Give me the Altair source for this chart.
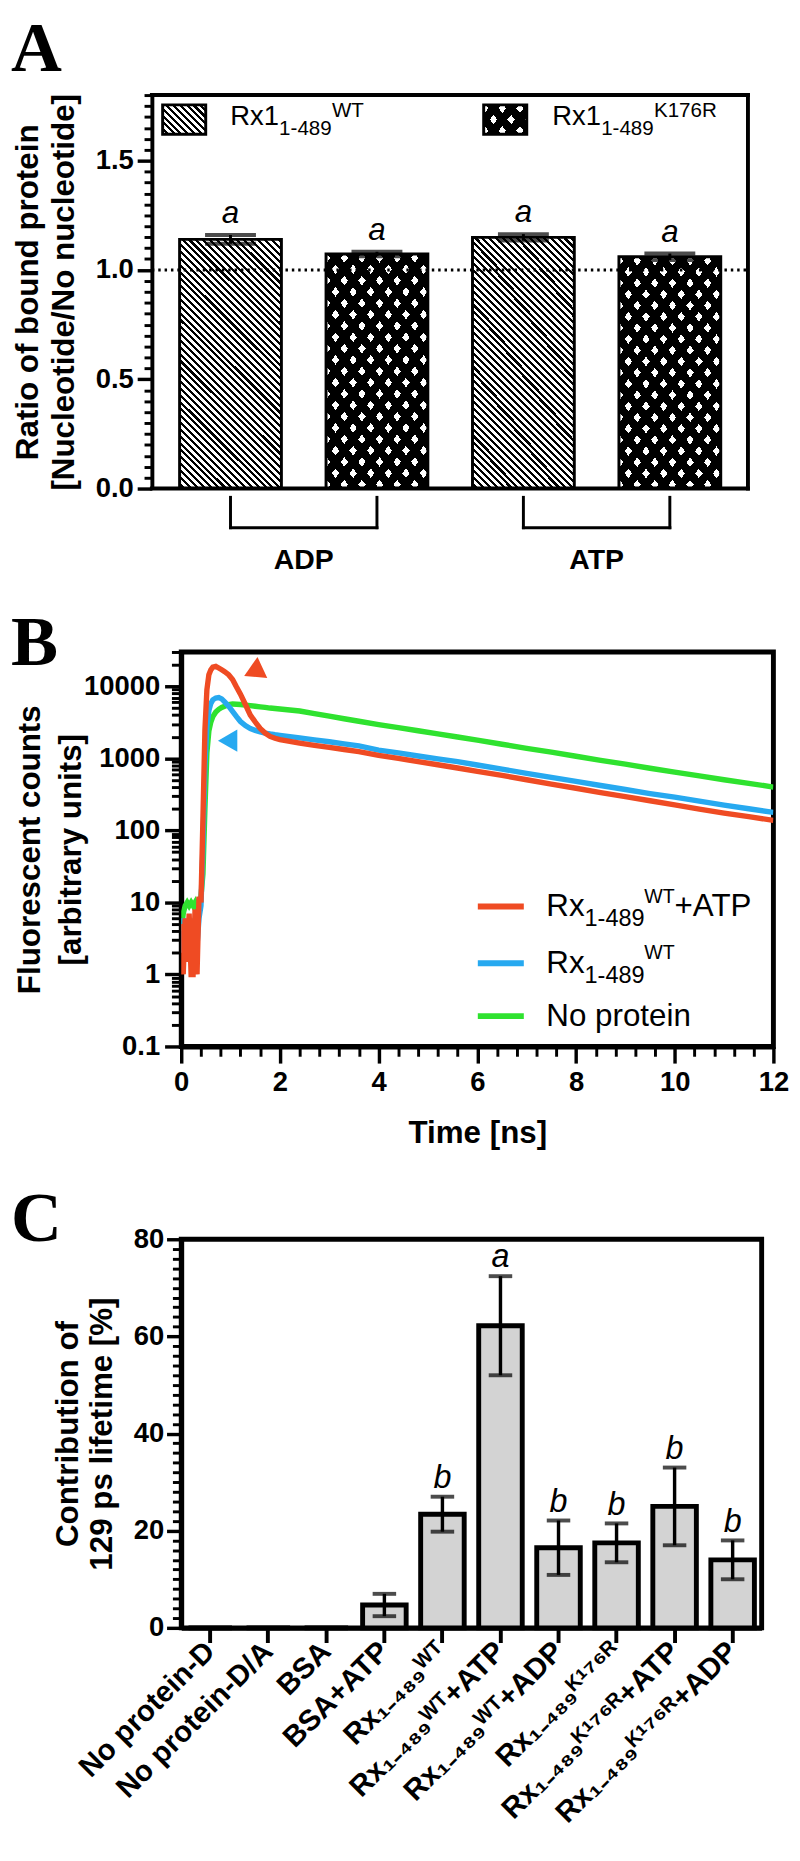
import altair as alt
import pandas as pd

FONT = "Liberation Sans"
SERIF = "Liberation Serif"
RED = "#EF4B23"
BLUE = "#27A9F0"
GREEN = "#2FE22F"

# ---------------- Panel A values ----------------
A_POS = [1, 2, 3, 4]
A_VARIANT = ["WT", "K176R", "WT", "K176R"]
A_MEAN = [1.14, 1.073, 1.149, 1.06]
A_ERR = [0.02, 0.01, 0.015, 0.015]
A_LETTER = ["a", "a", "a", "a"]
A_GROUP = ["ADP", "ATP"]
A_GROUP_FIRST = [1, 3]
A_GROUP_LAST = [2, 4]
A_REF = [1.0]
A_YTICKS = [0.0, 0.5, 1.0, 1.5]
A_YMINOR = [round(0.05 * i, 2) for i in range(37) if i % 10 != 0]

# ---------------- Panel B values ----------------
B_TIME = [0.00, 0.04, 0.08, 0.12, 0.16, 0.20, 0.24, 0.28, 0.32, 0.36, 0.40, 0.44,
          0.48, 0.52, 0.56, 0.60, 0.64, 0.70, 0.76, 0.82, 0.88, 0.96, 1.04, 1.12,
          1.20, 1.30, 1.40, 1.50, 1.60, 1.70, 1.80, 1.90, 2.0, 2.2, 2.4, 2.7, 3.0,
          3.3, 3.6, 4.0, 4.4, 4.8, 5.2, 5.6, 6.0, 6.5, 7.0, 7.5, 8.0, 8.5, 9.0,
          9.5, 10.0, 10.5, 11.0, 11.5, 12.0]
B_RED = [5, 1, 6, 1.5, 7, 1, 1, 8, 1, 12, 10, 150,
         2500, 9000, 14500, 17000, 18500, 19000, 18000, 17000, 16000, 14500, 12500, 9800,
         7800, 5600, 4000, 3200, 2600, 2250, 2020, 1900, 1820, 1720, 1630, 1520, 1420,
         1330, 1240, 1100, 1000, 900, 815, 735, 660, 580, 505, 440, 385, 335, 295,
         258, 226, 198, 174, 155, 138]
B_BLUE = [2, 6, 3, 5, 2, 6, 3, 4, 2.5, 6, 9, 60,
          800, 2800, 4600, 5800, 6500, 6900, 7000, 6700, 6100, 5300, 4500, 3800,
          3250, 2850, 2600, 2450, 2330, 2250, 2180, 2130, 2090, 2010, 1930, 1810, 1700,
          1590, 1490, 1300, 1190, 1080, 985, 900, 810, 710, 620, 545, 480, 420, 370,
          325, 290, 255, 225, 200, 178]
B_GREEN = [4, 7, 9, 10, 9, 10, 9, 10, 8, 10, 12, 25,
           200, 1200, 2400, 3200, 3800, 4400, 4800, 5100, 5300, 5600, 5700, 5650,
           5600, 5500, 5400, 5300, 5200, 5100, 5000, 4920, 4850, 4700, 4550, 4170, 3850,
           3550, 3280, 2950, 2680, 2420, 2190, 1980, 1790, 1570, 1380, 1220, 1070, 940, 830,
           730, 645, 570, 505, 450, 400]
B_ARROW_T = [1.46, 0.94]
B_ARROW_V = [16000, 1760]
B_XTICKS = [0, 2, 4, 6, 8, 10, 12]
B_XMINOR = [round(0.4 * i, 1) for i in range(31) if i % 5 != 0]
B_YTICKS = [0.1, 1, 10, 100, 1000, 10000]
B_YMINOR = [round(m * d, 4) for d in [0.1, 1, 10, 100, 1000] for m in range(2, 10)] + [20000, 30000]

# ---------------- Panel C values ----------------
SUB = "\u2081\u208B\u2084\u2088\u2089"
WT_SUP = "\u1D42\u1D40"
K_SUP = "\u1D37\u00B9\u2077\u2076\u1D3F"
C_LABELS = ["No protein-D", "No protein-D/A", "BSA", "BSA+ATP",
            "Rx" + SUB + WT_SUP, "Rx" + SUB + WT_SUP + "+ATP", "Rx" + SUB + WT_SUP + "+ADP",
            "Rx" + SUB + K_SUP, "Rx" + SUB + K_SUP + "+ATP", "Rx" + SUB + K_SUP + "+ADP"]
C_MEAN = [0, 0, 0, 4.7, 23.4, 62.2, 16.5, 17.5, 25.0, 14.0]
C_ERR = [0, 0, 0, 2.3, 3.6, 10.2, 5.6, 4.0, 8.0, 4.0]
C_LETTER = ["", "", "", "", "b", "a", "b", "b", "b", "b"]
C_YTICKS = [0, 20, 40, 60, 80]
C_YMINOR = [2 * i for i in range(41) if i % 10 != 0]

# ---------------- sizes ----------------
SHIFT_A = 30          # panel A frame starts this far left of the shared plot origin
WA, HA = 579, 402
WB, HB = 605, 403
WC, HC = 593, 397
BAR_A = 104


def stripe_gradient(w, h, a, b, white_frac, white, black, direction):
    S = w / a + h / b
    gx = (w / a) / S
    gy = (h / b) / S
    if direction == "back":
        x1, y1 = 0.0, 1.0
        gy = -gy
    else:
        x1, y1 = 0.0, 0.0
    g2 = gx * gx + gy * gy
    x2 = x1 + gx / g2
    y2 = y1 + gy / g2
    stops = []

    def add(o, c):
        stops.append({"offset": round(min(max(o, 0.0), 1.0), 5), "color": c})

    i = 0
    while i / S <= 1.0:
        s0, s1, s2 = i / S, (i + white_frac) / S, (i + 1) / S
        add(s0, white); add(s1, white); add(s1, black); add(s2, black)
        i += 1
    return {"gradient": "linear", "x1": x1, "y1": y1, "x2": round(x2, 5), "y2": round(y2, 5), "stops": stops}


G_WT_BAR = stripe_gradient(104, 255, 7, 7, 0.55, "white", "black", "back")
G_WT_LEG = stripe_gradient(44, 30, 7, 7, 0.55, "white", "black", "back")
G_K1_BAR = stripe_gradient(104, 238, 18, 23, 0.42, "white", "black", "back")
G_K2_BAR = stripe_gradient(104, 238, 18, 23, 0.42, "rgba(0,0,0,0)", "black", "fwd")
G_K1_LEG = stripe_gradient(44, 30, 18, 23, 0.42, "white", "black", "back")
G_K2_LEG = stripe_gradient(44, 30, 18, 23, 0.42, "rgba(0,0,0,0)", "black", "fwd")

one = pd.DataFrame({"k": [0]})


def txt(s, x, y, size, weight="normal", style="normal", baseline="alphabetic", font=FONT, align="left"):
    return alt.Chart(one).mark_text(text=s, font=font, fontSize=size, fontWeight=weight, fontStyle=style,
                                    baseline=baseline, align=align, color="black").encode(
        x=alt.value(x), y=alt.value(y))


def box(x1, x2, y1, y2, **kw):
    return alt.Chart(one).mark_rect(**kw).encode(x=alt.value(x1), x2=alt.value(x2), y=alt.value(y1), y2=alt.value(y2))


def seg(x1, x2, y, color, width, cap="butt"):
    return alt.Chart(one).mark_rule(color=color, strokeWidth=width, strokeCap=cap).encode(
        x=alt.value(x1), x2=alt.value(x2), y=alt.value(y))


def vseg(x, y1, y2, color, width, cap="butt"):
    return alt.Chart(one).mark_rule(color=color, strokeWidth=width, strokeCap=cap).encode(
        x=alt.value(x), y=alt.value(y1), y2=alt.value(y2))


# ======================= Panel A =======================
dfA = pd.DataFrame({"pos": A_POS, "variant": A_VARIANT, "mean": A_MEAN, "err": A_ERR, "letter": A_LETTER})
dfA["lo"] = dfA["mean"] - dfA["err"]
dfA["hi"] = dfA["mean"] + dfA["err"]
STEP_A = 152.25
xsA = alt.Scale(domain=[4.5 - WA / STEP_A, 4.5], nice=False, zero=False)
ysA = alt.Scale(domain=[0, 1.8], nice=False, zero=False)
axisA = alt.Axis(orient="left", offset=SHIFT_A, values=A_YTICKS, format=".1f",
                 title=["Ratio of bound protein", "[Nucleotide/No nucleotide]"],
                 titleAngle=270, titleX=-142, titleY=HA / 2, titleAlign="center", titleBaseline="top",
                 titleLineHeight=37, tickSize=15, tickWidth=3.5, domainWidth=4, labelPadding=4,
                 labelOverlap=False, grid=False)
xA = alt.X("pos:Q", scale=xsA, axis=None)
baseA = alt.Chart(dfA)
a_wt = baseA.transform_filter("datum.variant == 'WT'").mark_bar(
    width=BAR_A, fill=G_WT_BAR, stroke="black", strokeWidth=3).encode(
    x=xA, y=alt.Y("mean:Q", scale=ysA, axis=axisA))
a_k1 = baseA.transform_filter("datum.variant == 'K176R'").mark_bar(width=BAR_A, fill=G_K1_BAR).encode(
    x=xA, y=alt.Y("mean:Q", scale=ysA, axis=None))
a_k2 = baseA.transform_filter("datum.variant == 'K176R'").mark_bar(
    width=BAR_A, fill=G_K2_BAR, stroke="black", strokeWidth=3).encode(
    x=xA, y=alt.Y("mean:Q", scale=ysA, axis=None))
a_ref = alt.Chart(pd.DataFrame({"ref": A_REF})).mark_rule(strokeDash=[2.5, 4], strokeWidth=3, color="black").encode(
    x=alt.value(-SHIFT_A), x2=alt.value(WA), y=alt.Y("ref:Q", scale=ysA, axis=None))
a_err = baseA.mark_rule(strokeWidth=3, color="black").encode(
    x=xA, y=alt.Y("lo:Q", scale=ysA, axis=None), y2="hi:Q")
a_cap_hi = baseA.mark_tick(orient="horizontal", size=52, thickness=4, color="black").encode(
    x=xA, y=alt.Y("hi:Q", scale=ysA, axis=None))
a_cap_lo = baseA.mark_tick(orient="horizontal", size=52, thickness=4, color="black").encode(
    x=xA, y=alt.Y("lo:Q", scale=ysA, axis=None))
a_let = baseA.mark_text(font=FONT, fontSize=32, fontStyle="italic", baseline="alphabetic", dy=-12, color="black").encode(
    x=xA, y=alt.Y("hi:Q", scale=ysA, axis=None), text="letter:N")

dfBr = pd.DataFrame({"group": A_GROUP, "first": A_GROUP_FIRST, "last": A_GROUP_LAST})
BR_TOP, BR_BOT, BR_LAB = 411, 442, 475
a_legs = alt.Chart(dfBr).transform_fold(["first", "last"], as_=["end", "px"]).mark_rule(
    strokeWidth=3, color="black", strokeCap="square").encode(
    x=alt.X("px:Q", scale=xsA, axis=None), y=alt.value(BR_TOP), y2=alt.value(BR_BOT))
a_hbr = alt.Chart(dfBr).mark_rule(strokeWidth=3, color="black", strokeCap="square").encode(
    x=alt.X("first:Q", scale=xsA, axis=None), x2="last:Q", y=alt.value(BR_BOT))
a_glab = alt.Chart(dfBr).transform_calculate(mid="(datum.first + datum.last) / 2").mark_text(
    font=FONT, fontSize=29, fontWeight="bold", baseline="middle", color="black").encode(
    x=alt.X("mid:Q", scale=xsA, axis=None), y=alt.value(BR_LAB), text="group:N")

a_frame = [
    seg(-SHIFT_A, WA, 0, "black", 4, "square"),
    seg(-SHIFT_A, WA, HA, "black", 4, "square"),
    vseg(WA, 0, HA, "black", 4, "square"),
]
L = -SHIFT_A
a_legend = [
    box(L + 11, L + 55, 10, 40, fill=G_WT_LEG, stroke="black", strokeWidth=3),
    txt("Rx1", L + 80, 31, 28), txt("1-489", L + 130, 41, 21), txt("WT", L + 184, 22, 21),
    box(L + 339, L + 383, 10, 40, fill=G_K1_LEG),
    box(L + 339, L + 383, 10, 40, fill=G_K2_LEG, stroke="black", strokeWidth=3),
    txt("Rx1", L + 409, 31, 28), txt("1-489", L + 459, 41, 21), txt("K176R", L + 513, 22, 21),
]
a_letter = txt("A", -174, -25, 72, weight="bold", baseline="alphabetic", font=SERIF)

a_minor = alt.Chart(pd.DataFrame({"m": A_YMINOR})).mark_rule(opacity=0).encode(
    y=alt.Y("m:Q", scale=ysA, axis=alt.Axis(orient="left", offset=SHIFT_A, values=A_YMINOR, labels=False,
                                          title=None, tickSize=8, tickWidth=3, domain=False, grid=False)))

panelA = alt.layer(
    a_wt, a_minor, a_k1, a_k2, a_ref, a_err, a_cap_hi, a_cap_lo, a_let, a_legs, a_hbr, a_glab,
    *a_frame, *a_legend, a_letter,
).resolve_axis(x="independent", y="independent").properties(
    width=WA, height=HA, view=alt.ViewBackground(stroke="transparent", strokeWidth=0))

# ======================= Panel B =======================
n = len(B_TIME)
dfB = pd.DataFrame({"t": B_TIME * 3, "v": B_RED + B_BLUE + B_GREEN,
                    "s": ["red"] * n + ["blue"] * n + ["green"] * n})
xsB = alt.Scale(domain=[0, 12], nice=False, zero=False)
ysB = alt.Scale(type="log", domain=[0.1, 30000], nice=False)
xaxB = alt.Axis(orient="bottom", values=B_XTICKS, format="d", title="Time [ns]", titleX=WB / 2, titleY=73,
                titleAlign="center", titleBaseline="top", tickSize=17, tickWidth=3.5, labelPadding=6,
                domainWidth=5, labelFlush=False, labelOverlap=False, grid=False)
yaxB = alt.Axis(orient="left", values=B_YTICKS, format=".1~f", title=["Fluorescent counts", "[arbitrary units]"],
                titleAngle=270, titleX=-170, titleY=HB / 2, titleAlign="center", titleBaseline="top",
                titleLineHeight=42, tickSize=17, tickWidth=3.5, labelPadding=5, domainWidth=5,
                labelOverlap=False, grid=False)


def bline(series, color, first=False):
    return alt.Chart(dfB).transform_filter(f"datum.s == '{series}'").mark_line(
        color=color, strokeWidth=5.5, clip=True).encode(
        x=alt.X("t:Q", scale=xsB, axis=xaxB if first else None),
        y=alt.Y("v:Q", scale=ysB, axis=yaxB if first else None),
        order="t:Q")


dfArr = pd.DataFrame({"t": B_ARROW_T, "v": B_ARROW_V, "s": ["red", "blue"]})
b_arr_red = alt.Chart(dfArr).transform_filter("datum.s == 'red'").mark_point(
    shape="triangle-up", filled=True, size=560, angle=245, color=RED, opacity=1).encode(
    x=alt.X("t:Q", scale=xsB, axis=None), y=alt.Y("v:Q", scale=ysB, axis=None))
b_arr_blue = alt.Chart(dfArr).transform_filter("datum.s == 'blue'").mark_point(
    shape="triangle-up", filled=True, size=520, angle=270, color=BLUE, opacity=1).encode(
    x=alt.X("t:Q", scale=xsB, axis=None), y=alt.Y("v:Q", scale=ysB, axis=None))

b_legend = [
    seg(303, 350, 260, RED, 6), txt("Rx", 373, 270, 32), txt("1-489", 412, 280, 24),
    txt("WT", 473, 256, 20), txt("+ATP", 504, 270, 32),
    seg(303, 350, 318, BLUE, 6), txt("Rx", 373, 328, 32), txt("1-489", 412, 338, 24),
    txt("WT", 473, 314, 20),
    seg(303, 350, 372, GREEN, 6), txt("No protein", 373, 382, 32),
]
b_letter = txt("B", -174, 13, 72, weight="bold", baseline="alphabetic", font=SERIF)

b_minor_y = alt.Chart(pd.DataFrame({"m": B_YMINOR})).mark_rule(opacity=0).encode(
    y=alt.Y("m:Q", scale=ysB, axis=alt.Axis(orient="left", values=B_YMINOR, labels=False, title=None,
                                          tickSize=10, tickWidth=3, domain=False, grid=False)))
b_minor_x = alt.Chart(pd.DataFrame({"m": B_XMINOR})).mark_rule(opacity=0).encode(
    x=alt.X("m:Q", scale=xsB, axis=alt.Axis(orient="bottom", values=B_XMINOR, labels=False, title=None,
                                          tickSize=10, tickWidth=3, domain=False, grid=False)))

panelB = alt.layer(
    bline("green", GREEN, True), b_minor_y, b_minor_x, bline("blue", BLUE), bline("red", RED),
    b_arr_red, b_arr_blue, *b_legend, b_letter,
).resolve_axis(x="independent", y="independent").properties(
    width=WB, height=HB, view=alt.ViewBackground(stroke="black", strokeWidth=5))

# ======================= Panel C =======================
dfC = pd.DataFrame({"cond": C_LABELS, "mean": C_MEAN, "err": C_ERR, "letter": C_LETTER})
dfC["lo"] = dfC["mean"] - dfC["err"]
dfC["hi"] = dfC["mean"] + dfC["err"]
xsC = alt.Scale(domain=C_LABELS, paddingInner=0.25, paddingOuter=0.125)
ysC = alt.Scale(domain=[0, 80], nice=False, zero=False)
xaxC = alt.Axis(orient="bottom", labelAngle=-45, labelAlign="right", labelBaseline="middle", tickSize=15,
                tickWidth=4, labelPadding=4, title=None, domainWidth=5, bandPosition=0.5, labelFontSize=30,
                labelLimit=500, labelOverlap=False, grid=False)
yaxC = alt.Axis(orient="left", values=C_YTICKS, title=["Contribution of", "129 ps lifetime [%]"], titleAngle=270,
                titleX=-131, titleY=HC / 2, titleAlign="center", titleBaseline="top", titleLineHeight=35,
                tickSize=15, tickWidth=3.5, labelPadding=3, domainWidth=5, labelOverlap=False, grid=False)
xC = alt.X("cond:N", sort=C_LABELS, scale=xsC, axis=None)
baseC = alt.Chart(dfC)
c_bars = baseC.mark_bar(fill="#D3D3D3", stroke="black", strokeWidth=5).encode(
    x=alt.X("cond:N", sort=C_LABELS, scale=xsC, axis=xaxC),
    y=alt.Y("mean:Q", scale=ysC, axis=yaxC))
c_err = baseC.transform_filter("datum.err > 0").mark_rule(strokeWidth=3.5, color="black").encode(
    x=xC, y=alt.Y("lo:Q", scale=ysC, axis=None), y2="hi:Q")
c_cap_hi = baseC.transform_filter("datum.err > 0").mark_tick(orient="horizontal", size=24, thickness=4, color="black").encode(
    x=xC, y=alt.Y("hi:Q", scale=ysC, axis=None))
c_cap_lo = baseC.transform_filter("datum.err > 0").mark_tick(orient="horizontal", size=24, thickness=4, color="black").encode(
    x=xC, y=alt.Y("lo:Q", scale=ysC, axis=None))
c_let = baseC.transform_filter("datum.err > 0").mark_text(
    font=FONT, fontSize=33, fontStyle="italic", baseline="alphabetic", dy=-9, color="black").encode(
    x=xC, y=alt.Y("hi:Q", scale=ysC, axis=None), text="letter:N")
c_letter = txt("C", -174, 2, 72, weight="bold", baseline="alphabetic", font=SERIF)

c_minor = alt.Chart(pd.DataFrame({"m": C_YMINOR})).mark_rule(opacity=0).encode(
    y=alt.Y("m:Q", scale=ysC, axis=alt.Axis(orient="left", values=C_YMINOR, labels=False, title=None,
                                          tickSize=9, tickWidth=3, domain=False, grid=False)))

panelC = alt.layer(
    c_bars, c_minor, c_err, c_cap_hi, c_cap_lo, c_let, c_letter,
).resolve_axis(x="independent", y="independent").properties(
    width=WC, height=HC, view=alt.ViewBackground(stroke="black", strokeWidth=5))

chart = alt.concat(panelA, panelB, panelC, columns=1, spacing=31, bounds="full").properties(
    padding={"top": -14, "bottom": 0, "left": 0, "right": 0}
).configure_axis(
    labelFont=FONT, labelFontSize=28, labelFontWeight="bold", labelColor="black",
    titleFont=FONT, titleFontSize=32, titleFontWeight="bold", titleColor="black",
    tickColor="black", domainColor="black", grid=False,
).configure_view(stroke="black")

chart.save("out.html", embed_options={"renderer": "svg", "actions": False})
